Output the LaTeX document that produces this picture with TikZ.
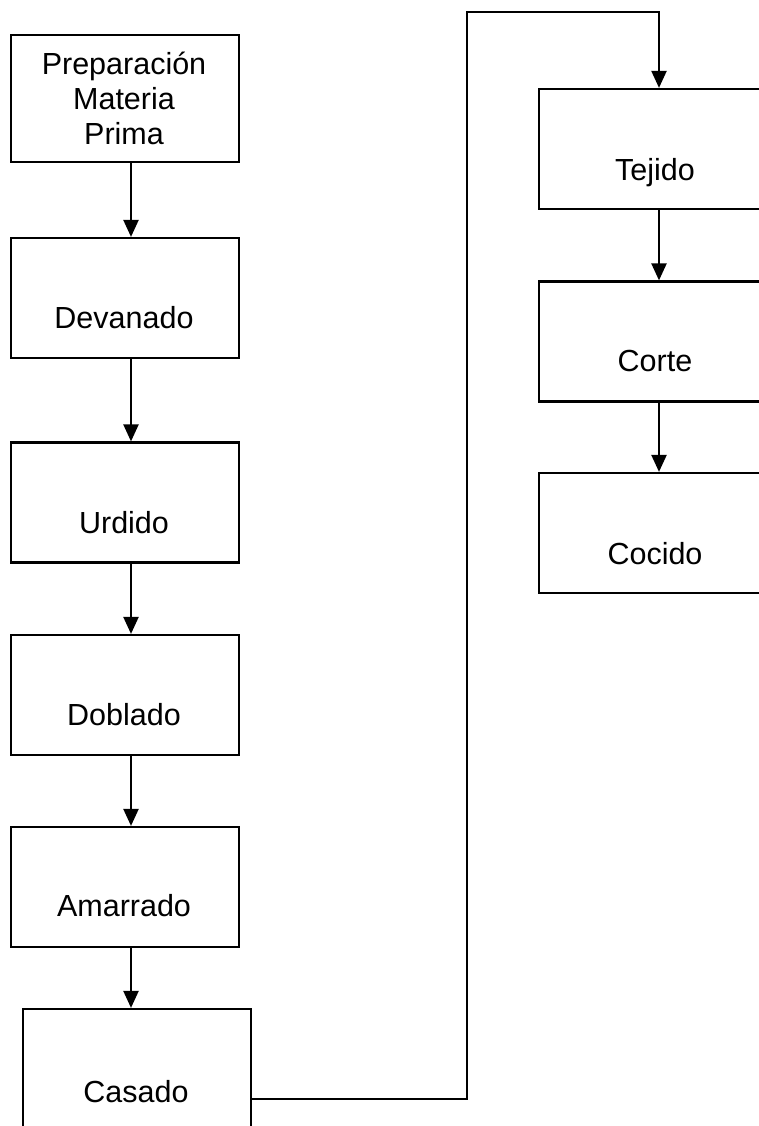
\documentclass[tikz,border=0pt]{standalone}
\usepackage{fontspec}
\setmainfont{Liberation Sans}
\usetikzlibrary{arrows.meta}
\begin{document}
\begin{tikzpicture}[x=1pt,y=-1pt,
  box/.style={draw=black,line width=2.2pt,minimum width=228pt,minimum height=120pt,inner sep=0pt,fill=white},
  lbl/.style={anchor=base,font=\fontsize{30.5}{35}\selectfont,inner sep=0pt},
  arr/.style={line width=2.2pt,-{Triangle[width=15pt,length=17pt]}}]
\useasboundingbox (0,0) rectangle (759,1126);
\clip (0,0) rectangle (759,1126);
% left column
\node[box,minimum height=127pt] (prep) at (125,98.5) {};
\node[box] (dev) at (125,298) {};
\node[box] (urd) at (125,502.5) {};
\node[box] (dob) at (125,695) {};
\node[box] (ama) at (125,887) {};
\node[box,minimum height=180pt] (cas) at (137,1099) {};
% right column
\node[box] (tej) at (653,149) {};
\node[box] (cor) at (653,341.5) {};
\node[box] (coc) at (653,533) {};
% labels
\node[lbl] (tprep1) at (124,75) {Preparación};
\node[lbl] (tprep2) at (124,110) {Materia};
\node[lbl] (tprep3) at (124,145) {Prima};
\node[lbl] (tdev) at (124,328) {Devanado};
\node[lbl] (turd) at (124,533) {Urdido};
\node[lbl] (tdob) at (124,725) {Doblado};
\node[lbl] (tama) at (124,916) {Amarrado};
\node[lbl] (tcas) at (136,1102) {Casado};
\node[lbl] (ttej) at (655,180) {Tejido};
\node[lbl] (tcor) at (655,371) {Corte};
\node[lbl] (tcoc) at (655,564) {Cocido};
% connectors
\draw[arr] ([xshift=6pt]prep.south) -- ([xshift=6pt]dev.north);
\draw[arr] ([xshift=6pt]dev.south) -- ([xshift=6pt]urd.north);
\draw[arr] ([xshift=6pt]urd.south) -- ([xshift=6pt]dob.north);
\draw[arr] ([xshift=6pt]dob.south) -- ([xshift=6pt]ama.north);
\draw[arr] ([xshift=6pt]ama.south) -- ([xshift=-6pt]cas.north);
\coordinate (t1) at (467,1099);
\coordinate (t2) at (467,12);
\coordinate (tin) at ([xshift=6pt]tej.north);
\draw[arr] (cas.east |- t1) -- (t1) -- (t2) -- (t2 -| tin) -- (tin);
\draw[arr] ([xshift=6pt]tej.south) -- ([xshift=6pt]cor.north);
\draw[arr] ([xshift=6pt]cor.south) -- ([xshift=6pt]coc.north);
\end{tikzpicture}
\end{document}
